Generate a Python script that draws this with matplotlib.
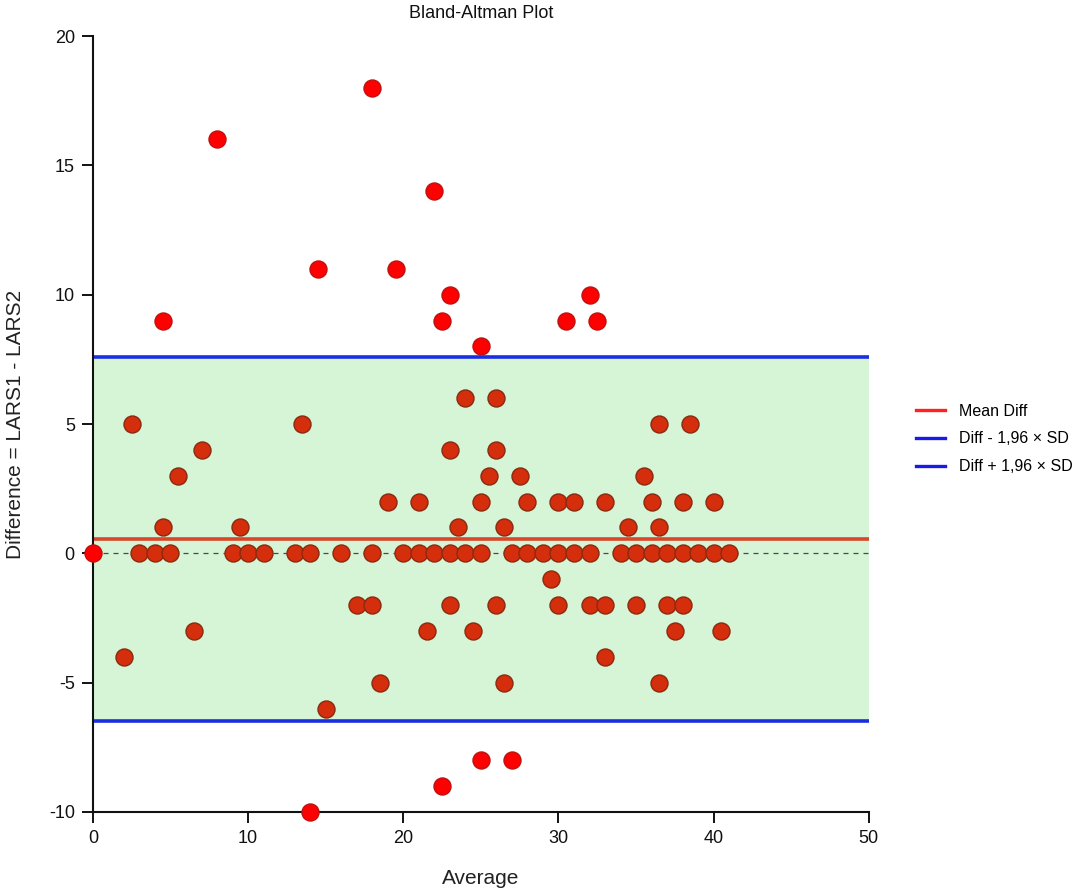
import matplotlib
matplotlib.use("Agg")
import matplotlib.pyplot as plt

# ─── Daten ────────────────────────────────────────────────────────────────────
# Punkte innerhalb der Übereinstimmungsgrenzen
avg_in = [2.5, 13.5, 36.5, 38.5,
          24, 26,
          7, 23, 26,
          5.5, 25.5, 27.5, 35.5,
          19, 21, 25, 28, 30, 31, 33, 36, 38, 40,
          4.5, 9.5, 23.5, 26.5, 34.5, 36.5,
          3, 4, 5, 9, 10, 11, 13, 14, 16, 18, 20, 21, 22, 23, 24, 25,
          27, 28, 29, 30, 31, 32, 34, 35, 36, 37, 38, 39, 40, 41,
          29.5,
          17, 18, 23, 26, 30, 32, 33, 35, 37, 38,
          6.5, 21.5, 24.5, 37.5, 40.5,
          2, 33,
          18.5, 26.5, 36.5,
          15]
diff_in = [5, 5, 5, 5,
           6, 6,
           4, 4, 4,
           3, 3, 3, 3,
           2, 2, 2, 2, 2, 2, 2, 2, 2, 2,
           1, 1, 1, 1, 1, 1,
           0, 0, 0, 0, 0, 0, 0, 0, 0, 0, 0, 0, 0, 0, 0, 0,
           0, 0, 0, 0, 0, 0, 0, 0, 0, 0, 0, 0, 0, 0,
           -1,
           -2, -2, -2, -2, -2, -2, -2, -2, -2, -2,
           -3, -3, -3, -3, -3,
           -4, -4,
           -5, -5, -5,
           -6]

# Hervorgehobene Punkte (außerhalb der Grenzen)
avg_out = [0, 8, 18, 22, 14.5, 19.5, 4.5, 22.5, 23, 25, 30.5, 32, 32.5,
           25, 27, 22.5, 14]
diff_out = [0, 16, 18, 14, 11, 11, 9, 9, 10, 8, 9, 10, 9,
            -8, -8, -9, -10]

MEAN_DIFF = 0.54
LOWER = -6.50
UPPER = 7.58

X_TICKS = [0, 10, 20, 30, 40, 50]
Y_TICKS = [-10, -5, 0, 5, 10, 15, 20]

# ─── Plot ─────────────────────────────────────────────────────────────────────
plt.rcParams["font.family"] = ["Liberation Sans", "DejaVu Sans"]
plt.rcParams["axes.unicode_minus"] = False

fig = plt.figure(figsize=(10.8, 8.92), dpi=100)
ax = fig.add_axes([0.086, 0.0897, 0.7185, 0.8699])

ax.axhspan(LOWER, UPPER, color="#d6f5d6", zorder=0, lw=0)
ax.axhline(0, color="#4b3f6b", lw=0.9, ls=(0, (4, 4)), zorder=1)
ax.axhline(MEAN_DIFF, color="#d8472a", lw=2.6, zorder=2)
ax.axhline(LOWER, color="#1a30e0", lw=2.6, zorder=2)
ax.axhline(UPPER, color="#1a30e0", lw=2.6, zorder=2)

ax.scatter(avg_in, diff_in, s=150, color="#d42e0c", edgecolor="#8a2a10",
           linewidth=1.0, zorder=3, clip_on=False)
ax.scatter(avg_out, diff_out, s=150, color="#ff0000", edgecolor="#c01010",
           linewidth=1.0, zorder=4, clip_on=False)

ax.set_xlim(0, 50)
ax.set_ylim(-10, 20)
ax.set_xticks(X_TICKS)
ax.set_yticks(Y_TICKS)
ax.tick_params(direction="out", length=8, width=1.4, labelsize=13,
               colors="#111111", pad=5)
for s in ["top", "right"]:
    ax.spines[s].set_visible(False)
for s in ["left", "bottom"]:
    ax.spines[s].set_linewidth(1.5)
    ax.spines[s].set_color("#111111")

ax.set_title("Bland-Altman Plot", fontsize=13, color="#111111", pad=13)
ax.set_xlabel("Average", fontsize=15, color="#222222", labelpad=16)
ax.set_ylabel("Difference = LARS1 - LARS2", fontsize=15, color="#222222",
              labelpad=17)

# Legende
h_mean, = ax.plot([], [], color="#ff2020", lw=2.4)
h_low, = ax.plot([], [], color="#1a1ae8", lw=2.4)
h_up, = ax.plot([], [], color="#1a1ae8", lw=2.4)
fig.legend([h_mean, h_low, h_up],
           ["Mean Diff", "Diff - 1,96 × SD", "Diff + 1,96 × SD"],
           loc="center left", bbox_to_anchor=(0.835, 0.508), frameon=False,
           fontsize=11.5, handlelength=1.8, handletextpad=0.9,
           labelspacing=0.8, borderpad=0.4)

fig.savefig("out.png", dpi=100)
